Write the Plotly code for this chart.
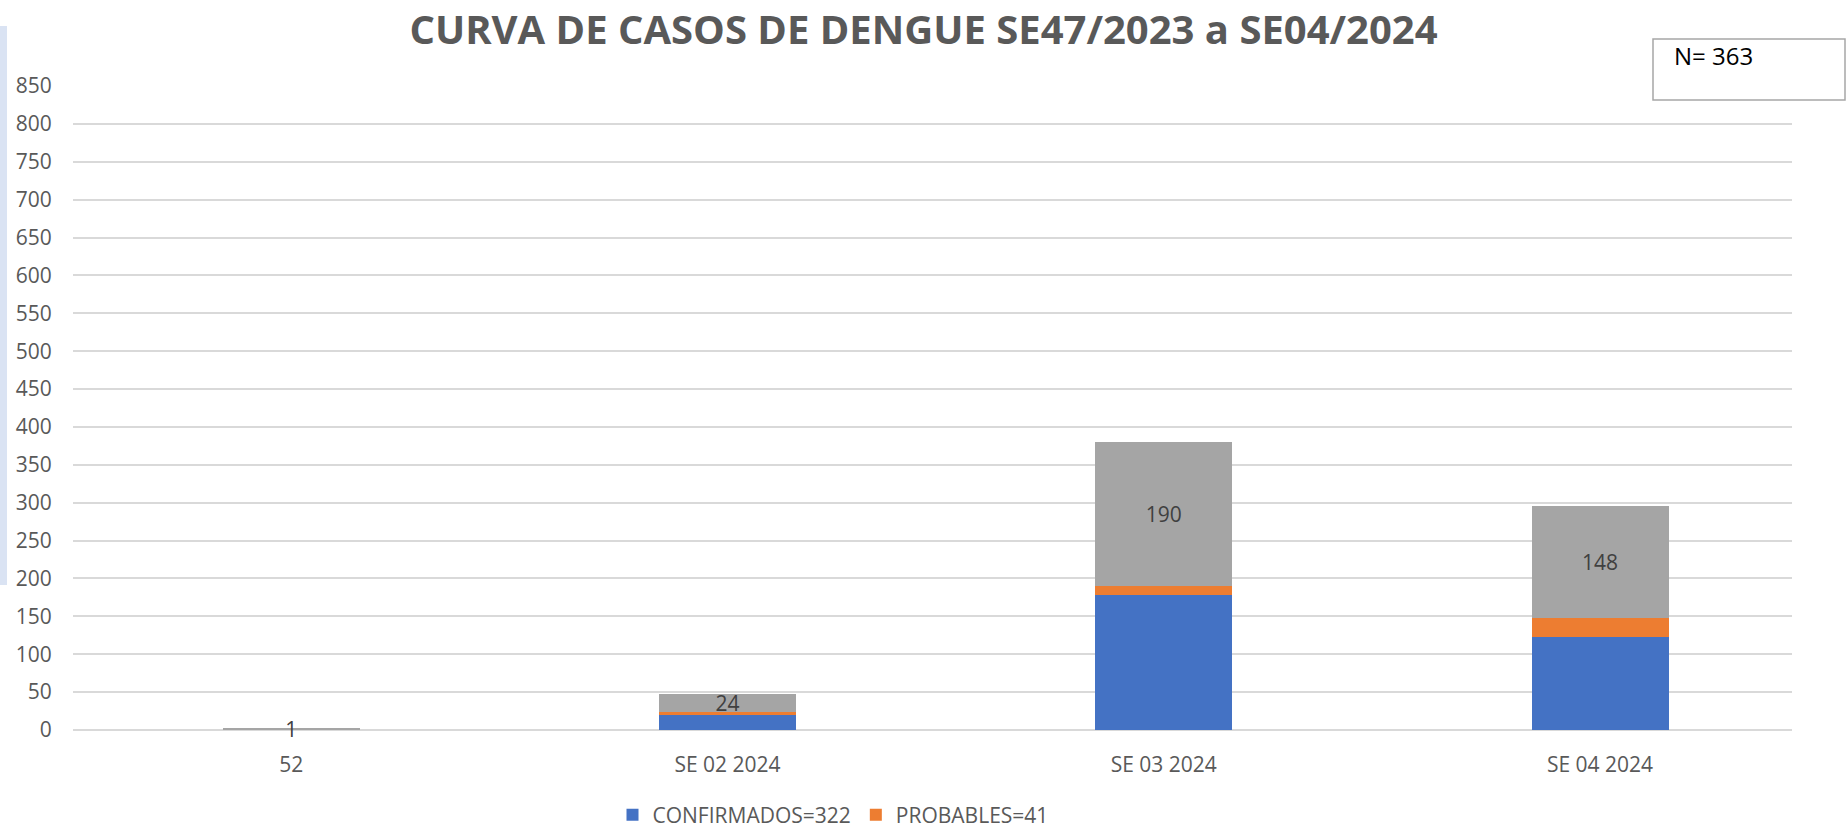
import plotly.graph_objects as go

# ---- data ----
categories = ["52", "SE 02 2024", "SE 03 2024", "SE 04 2024"]
confirmados = [1, 20, 178, 123]
probables = [0, 4, 12, 25]
totales = [1, 24, 190, 148]   # grey stacked series (labelled)
y_ticks = list(range(0, 851, 50))
title_text = "CURVA DE CASOS DE DENGUE SE47/2023 a SE04/2024"
n_text = "N= 363"
conf_name = "CONFIRMADOS=322"
prob_name = "PROBABLES=41"

W, H = 1847, 828
L, R, T, B = 73, 55, 86, 98
pw, ph = W - L - R, H - T - B


def px(x):
    return (x - L) / pw


def py(y):
    return (H - B - y) / ph


FONT = "Open Sans, DejaVu Sans, sans-serif"
GRAY_TXT = "#595959"

fig = go.Figure()
fig.add_trace(go.Bar(x=categories, y=confirmados, name=conf_name,
                     marker=dict(color="#4472C4", line=dict(width=0))))
fig.add_trace(go.Bar(x=categories, y=probables, name=prob_name,
                     marker=dict(color="#ED7D31", line=dict(width=0))))
fig.add_trace(go.Bar(x=categories, y=totales, name="TOTAL", showlegend=False,
                     marker=dict(color="#A5A5A5", line=dict(width=0)),
                     text=[str(v) for v in totales], textposition="inside",
                     insidetextanchor="middle", constraintext="none",
                     textangle=0, cliponaxis=False,
                     textfont=dict(family=FONT, size=21, color="#404040")))

fig.update_layout(
    barmode="stack",
    bargap=0.686,
    width=W, height=H,
    margin=dict(l=L, r=R, t=T, b=B, autoexpand=False),
    paper_bgcolor="white", plot_bgcolor="white",
    title=dict(text="<b>" + title_text + "</b>", x=0.5, xanchor="center",
               y=1 - 30 / H, yanchor="middle",
               font=dict(family=FONT, size=40, color=GRAY_TXT)),
    showlegend=True,
    legend=dict(orientation="h", x=px(833), xanchor="center",
                y=py(815), yanchor="middle",
                font=dict(family=FONT, size=21, color=GRAY_TXT),
                bgcolor="rgba(0,0,0,0)", traceorder="normal"),
    xaxis=dict(range=[-0.5, 3.44], showgrid=False, showline=False,
               zeroline=False, ticks="outside", ticklen=16,
               tickcolor="rgba(0,0,0,0)",
               tickfont=dict(family=FONT, size=21, color=GRAY_TXT),
               fixedrange=True),
    yaxis=dict(range=[0, 850], tickvals=y_ticks, showgrid=True,
               gridcolor="#d9d9d9", gridwidth=2, zeroline=True,
               zerolinecolor="#d9d9d9", zerolinewidth=2, showline=False,
               ticks="outside", ticklen=16, tickcolor="rgba(0,0,0,0)",
               tickfont=dict(family=FONT, size=21, color=GRAY_TXT),
               fixedrange=True),
    shapes=[
        dict(type="rect", xref="paper", yref="paper",
             x0=px(1653), x1=px(1845), y0=py(100), y1=py(39),
             fillcolor="white", line=dict(color="#a6a6a6", width=1.5),
             layer="above"),
        dict(type="rect", xref="paper", yref="paper",
             x0=px(0), x1=px(7), y0=py(585), y1=py(26),
             fillcolor="#dae3f3", line=dict(width=0), layer="above"),
    ],
    annotations=[
        dict(text=n_text, xref="paper", yref="paper", x=px(1672), y=py(55),
             xanchor="left", yanchor="middle", showarrow=False,
             font=dict(family=FONT, size=24, color="#000000")),
    ],
)

fig.write_html("out.html",
               config={"displayModeBar": False},
               post_script="document.body.style.margin='0';"
                           "document.body.style.overflow='hidden';")
